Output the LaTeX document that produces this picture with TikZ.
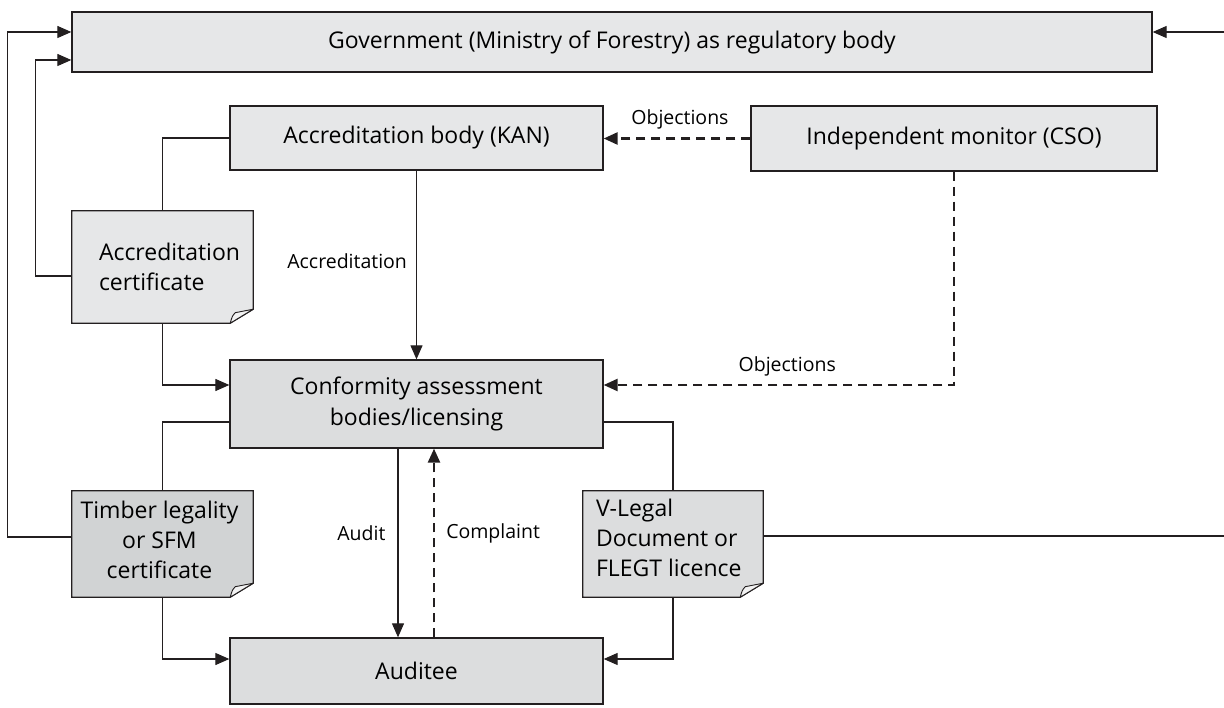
\documentclass[tikz,border=0pt]{standalone}
\usepackage{fontspec}
\setmainfont{Open Sans}
\usetikzlibrary{arrows.meta}
\definecolor{boxA}{HTML}{E6E7E8}
\definecolor{boxB}{HTML}{DCDDDE}
\definecolor{boxC}{HTML}{D1D3D4}
\definecolor{flapc}{HTML}{F2F2F2}
\definecolor{edgec}{HTML}{231F20}
\newcommand\docshape[2]{%
  \filldraw[fill=#2, draw=edgec, line width=1.3pt, line join=miter]
    (#1.north west) -- (#1.north east) -- ([yshift=14pt]#1.south east)
    -- ([xshift=-23pt]#1.south east) -- (#1.south west) -- cycle;
  \filldraw[fill=flapc, draw=edgec, line width=0.9pt, line join=round]
    ([xshift=-23pt]#1.south east) .. controls ([xshift=-21pt,yshift=7pt]#1.south east) .. ([xshift=-18pt,yshift=10.5pt]#1.south east)
    -- ([yshift=14pt]#1.south east) -- cycle;
}
\begin{document}
\begin{tikzpicture}[x=1pt,y=-1pt,
  box/.style={draw=edgec, line width=1.3pt, inner sep=0pt, align=center,
    font=\fontsize{23}{30.5}\selectfont},
  docarea/.style={inner sep=0pt, draw=none},
  doctext/.style={inner sep=0pt, font=\fontsize{23}{30}\selectfont},
  conn/.style={draw=edgec, line width=1.1pt},
  arr/.style={conn, -{Triangle[length=14pt,width=12pt]}},
  dashline/.style={draw=edgec, line width=2.5pt, dash pattern=on 9pt off 6pt,
    -{Triangle[length=14pt,width=12pt]}},
  lbl/.style={inner sep=0pt, font=\fontsize{19.5}{22}\selectfont}]
\useasboundingbox (0,0) rectangle (1224,708);

% main boxes
\node[box, fill=boxA, minimum width=1080pt, minimum height=60pt] (gov) at (612,42)
  {Government (Ministry of Forestry) as regulatory body};
\node[box, fill=boxA, minimum width=373pt, minimum height=64pt] (acred) at (416.5,138)
  {Accreditation body (KAN)};
\node[box, fill=boxA, minimum width=406pt, minimum height=65pt] (indep) at (954,138.5)
  {Independent monitor (CSO)};
\node[box, fill=boxB, minimum width=373pt, minimum height=88pt] (conf) at (416.5,404)
  {Conformity assessment\\bodies/licensing};
\node[box, fill=boxB, minimum width=373pt, minimum height=66pt] (aud) at (416.5,671)
  {Auditee};

% document areas
\node[docarea, minimum width=181pt, minimum height=112pt] (acert) at (162.5,267) {};
\node[docarea, minimum width=181pt, minimum height=106pt] (timber) at (162.5,544) {};
\node[docarea, minimum width=180pt, minimum height=106pt] (vlegal) at (673,544) {};
\docshape{acert}{boxA}
\docshape{timber}{boxC}
\docshape{vlegal}{boxB}
\node[doctext, anchor=west, align=left] (acertt) at ([xshift=27pt]acert.west)
  {Accreditation\\certificate};
\node[doctext, align=center] (timbert) at ([yshift=4pt,xshift=-3pt]timber.center)
  {Timber legality\\or SFM\\certificate};
\node[doctext, anchor=west, align=left] (vlegalt) at ([xshift=13pt,yshift=6pt]vlegal.west)
  {V-Legal\\Document or\\FLEGT licence};

% free ends at the right border
\coordinate (rtop) at (1224,32);
\coordinate (rmid) at (1224,536);

% connectors to the government
\draw[arr] ([yshift=-9pt]acert.west) -- ++(-36,0) |- ([yshift=-18pt]gov.west);
\draw[arr] ([yshift=7pt]timber.west) -- ++(-64,0) |- ([yshift=10pt]gov.west);
\draw[arr] (rtop) -- (rtop -| gov.east);
\draw[conn] ([yshift=8pt]vlegal.east) -- (rmid);

% accreditation chain
\draw[conn] (acred.west) -| (acert.north);
\draw[arr] (acert.south) |- ([yshift=19pt]conf.west);
\draw[arr] (acred.south) -- node[lbl, left=9pt, pos=0.48] {Accreditation} (conf.north);

% objections
\draw[dashline] (indep.west) -- node[lbl, above=8pt, pos=0.48] {Objections} (acred.east |- indep.west);
\draw[dashline] (indep.south) |- node[lbl, above=8pt, pos=0.738] {Objections} ([yshift=19pt]conf.east);

% certificates
\draw[conn] ([yshift=-18pt]conf.west) -| (timber.north);
\draw[conn] ([yshift=-18pt]conf.east) -| (vlegal.north);
\draw[arr] (timber.south) |- ([yshift=12pt]aud.west);
\draw[arr] (vlegal.south) |- ([yshift=12pt]aud.east);

% audit / complaint
\draw[arr] ([xshift=-18.5pt]conf.south) -- node[lbl, left=12pt, pos=0.447] {Audit} ([xshift=-18.5pt]aud.north);
\draw[dashline] ([xshift=17.5pt]aud.north) -- node[lbl, right=11pt, pos=0.55] {Complaint} ([xshift=17.5pt]conf.south);
\end{tikzpicture}
\end{document}
